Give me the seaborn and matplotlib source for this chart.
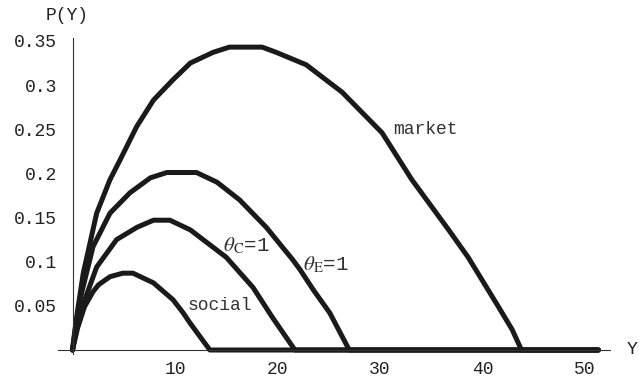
import numpy as np
import pandas as pd
import matplotlib
matplotlib.use("Agg")
import matplotlib.pyplot as plt
import seaborn as sns

# Probability curves P(Y) for each regime
market_x = [0, 0.25, 0.5, 1.05, 2.36, 3.66, 4.63, 6.26, 7.9, 9.8, 11.5, 13.7, 15.3, 18.5,
            19.9, 22.8, 26.3, 30.2, 33.1, 36.7, 38.6, 41.5, 42.9, 43.8, 51.3]
market_y = [0, 0.024, 0.045, 0.087, 0.155, 0.193, 0.215, 0.253, 0.283, 0.306, 0.325,
            0.337, 0.343, 0.343, 0.337, 0.323, 0.292, 0.246, 0.193, 0.136, 0.105,
            0.05, 0.023, 0.0, 0.0]

thetaE_x = [0, 0.35, 0.73, 2.0, 3.66, 5.6, 7.6, 9.2, 12.1, 14.1, 16.3, 18.9, 21.5, 22.2,
            23.5, 25.1, 27.0, 51.3]
thetaE_y = [0, 0.030, 0.057, 0.117, 0.155, 0.178, 0.195, 0.201, 0.201, 0.190, 0.170,
            0.139, 0.102, 0.091, 0.068, 0.042, 0.0, 0.0]

thetaC_x = [0, 0.35, 0.73, 2.36, 4.3, 6.3, 7.9, 9.5, 11.5, 12.4, 15.0, 17.6, 19.5,
            21.7, 51.3]
thetaC_y = [0, 0.022, 0.042, 0.094, 0.125, 0.139, 0.147, 0.147, 0.136, 0.128, 0.105,
            0.071, 0.037, 0.0, 0.0]

social_x = [0, 0.5, 1.17, 2.0, 2.55, 3.66, 4.9, 5.9, 7.9, 9.8, 10.8, 11.5, 13.4, 51.3]
social_y = [0, 0.025, 0.049, 0.066, 0.074, 0.083, 0.087, 0.087, 0.076, 0.057, 0.042,
            0.030, 0.0, 0.0]

curve_names = ["market", "thetaE", "thetaC", "social"]

x_ticks = [10, 20, 30, 40, 50]
y_ticks = [0.05, 0.1, 0.15, 0.2, 0.25, 0.3, 0.35]
y_tick_labels = ["0.05", "0.1", "0.15", "0.2", "0.25", "0.3", "0.35"]

frames = []
for name, xs, ys in zip(curve_names,
                        [market_x, thetaE_x, thetaC_x, social_x],
                        [market_y, thetaE_y, thetaC_y, social_y]):
    frames.append(pd.DataFrame({"Y": xs, "P": ys, "curve": name}))
df = pd.concat(frames, ignore_index=True)

sns.set_style("white")
plt.rcParams["font.family"] = ["Liberation Mono", "DejaVu Sans"]
plt.rcParams["mathtext.fontset"] = "stix"

W, H = 639, 383
fig = plt.figure(figsize=(W / 100, H / 100), dpi=100)

# axes box in pixel terms
left_px, right_px = 58, 610
x0_px, xscale = 72.5, 10.25
y0_px, yscale = 350, 883
top_px, bot_px = 38, 372
xlim = ((left_px - x0_px) / xscale, (right_px - x0_px) / xscale)
ylim = ((y0_px - bot_px) / yscale, (y0_px - top_px) / yscale)
ax = fig.add_axes([left_px / W, 1 - bot_px / H,
                   (right_px - left_px) / W, (bot_px - top_px) / H])

ink = "#1a1a1a"
sns.lineplot(data=df, x="Y", y="P", hue="curve", units="curve", estimator=None,
             sort=False, palette={n: ink for n in curve_names}, lw=3.6,
             legend=False, ax=ax, solid_joinstyle="round", solid_capstyle="round")

ax.set_xlim(*xlim)
ax.set_ylim(*ylim)
ax.set_facecolor("none")

for s in ["top", "right"]:
    ax.spines[s].set_visible(False)
ax.spines["left"].set_position(("data", 0))
ax.spines["bottom"].set_position(("data", 0))
ax.spines["left"].set_bounds(-0.004, ylim[1])
ax.spines["bottom"].set_bounds(xlim[0], xlim[1])
for s in ["left", "bottom"]:
    ax.spines[s].set_linewidth(0.8)
    ax.spines[s].set_color("#333333")

ax.set_xticks(x_ticks)
ax.set_xticklabels([str(t) for t in x_ticks])
ax.set_xticks(np.arange(2, 52, 2), minor=True)
ax.set_yticks(y_ticks)
ax.set_yticklabels(y_tick_labels)
ax.set_yticks(np.arange(0.01, 0.355, 0.01), minor=True)

ax.tick_params(axis="both", which="major", direction="in", length=5, width=0.8,
               color="#333333", labelsize=13, labelcolor="#222222")
ax.tick_params(axis="both", which="minor", direction="in", length=3, width=0.6,
               color="#333333")
ax.tick_params(axis="y", which="major", pad=11)
ax.tick_params(axis="x", which="major", pad=8)
ax.set_xlabel("")
ax.set_ylabel("")

fig.text(67 / W, 1 - 15 / H, "P(Y)", ha="center", va="center", fontsize=13,
         color="#222222")
fig.text(632 / W, 1 - 350 / H, "Y", ha="center", va="center", fontsize=13,
         color="#222222")

lab = dict(fontsize=13, color="#333333", ha="left", va="center")
theta_lab = dict(lab, fontsize=15)
ax.text(31.3, 0.250, "market", **lab)
ax.text(14.7, 0.118, r"$\theta_{\mathrm{C}}$=1", **theta_lab)
ax.text(22.5, 0.097, r"$\theta_{\mathrm{E}}$=1", **theta_lab)
ax.text(11.2, 0.050, "social", **lab)

fig.savefig("out.png", dpi=100)
